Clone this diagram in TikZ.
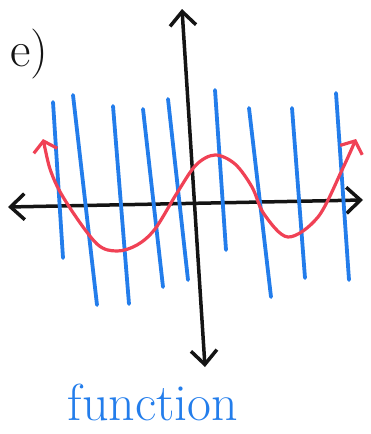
\documentclass[tikz,border=0pt]{standalone}
\usepackage{fontspec}
\usetikzlibrary{arrows.meta}
\definecolor{penblue}{RGB}{35,125,235}
\definecolor{penred}{RGB}{240,65,85}
\definecolor{penblack}{RGB}{20,20,20}
\tikzset{
  % black axes with open hand drawn heads
  axis line/.style={color=penblack,line width=3.5pt,line cap=round,line join=round,
    arrows={Straight Barb[length=14pt,width=26pt]-Straight Barb[length=14pt,width=26pt]}},
  % blue strokes
  blue stroke/.style={color=penblue,line width=3.8pt,line cap=round},
  % red wave
  red wave/.style={color=penred,line width=3.2pt,line cap=round,line join=round,
    arrows={Straight Barb[length=10pt,width=24pt]-Straight Barb[length=10pt,width=24pt]}},
}

\begin{document}
\begin{tikzpicture}[x=1pt,y=-1pt]
\useasboundingbox (0,0) rectangle (370,434);

\coordinate (xl) at (8,207);
\coordinate (xr) at (363,200);
\coordinate (yt) at (182,9);
\coordinate (yb) at (205,367);

\draw[axis line] (xl) -- (xr);
\draw[axis line] (yt) -- (yb);

\foreach \xa/\ya/\xb/\yb in {53/102/63/258, 73/95/97/305, 113/106/129/304, 143/109/163/287, 168/99/188/280,
  215/90/226/250, 249/108/271/297, 292/108/305/278, 336/93/349/280}
  \draw[blue stroke] (\xa,\ya) -- (\xb,\yb);

\draw[red wave] plot[smooth,tension=0.55] coordinates {(43,139) (53,177) (70,208) (97,244) (117,251) (137,245)
  (155,229) (177,193) (196,165) (215,155) (235,164) (252,187) (264,214) (288,237) (318,217) (342,170) (356,139)};

\node[anchor=base west,inner sep=0,color=penblack,font=\fontsize{50}{60}\selectfont] (lbl) at (10,66) {e)};
\node[anchor=base,inner sep=0,color=penblue,font=\fontsize{52}{62}\selectfont] (fn) at (153,420) {function};

\end{tikzpicture}
\end{document}
